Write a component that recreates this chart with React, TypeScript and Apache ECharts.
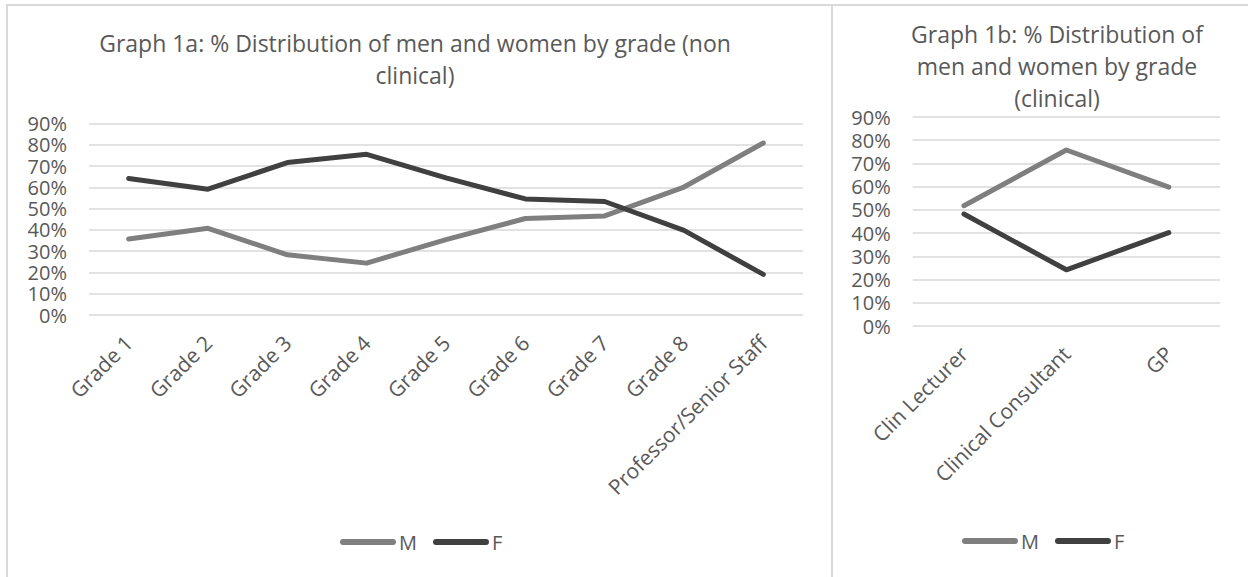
import React, { useEffect, useRef } from "react";
import * as echarts from "echarts";

const leftCategories = [
  "Grade 1",
  "Grade 2",
  "Grade 3",
  "Grade 4",
  "Grade 5",
  "Grade 6",
  "Grade 7",
  "Grade 8",
  "Professor/Senior Staff",
];
const leftM = [35.8, 40.8, 28.3, 24.4, 35.5, 45.4, 46.6, 60.2, 80.9];
const leftF = [64.2, 59.2, 71.7, 75.6, 64.5, 54.6, 53.4, 39.8, 19.1];

const rightCategories = ["Clin Lecturer", "Clinical Consultant", "GP"];
const rightM = [51.8, 75.8, 59.8];
const rightF = [48.2, 24.2, 40.2];

const yTicks = { min: 0, max: 90, interval: 10 };

const FONT = "'Open Sans', 'Noto Sans', sans-serif";
const TEXT = "#595959";
const GRID = "#d9d9d9";
const M_COLOR = "#7f7f7f";
const F_COLOR = "#404040";

export default function App() {
  const ref = useRef<HTMLDivElement>(null);

  useEffect(() => {
    if (!ref.current) return;
    const chart = echarts.init(ref.current, undefined, { renderer: "svg" });

    const yAxisBase = (gridIndex: number) => ({
      type: "value" as const,
      gridIndex,
      min: yTicks.min,
      max: yTicks.max,
      interval: yTicks.interval,
      axisLine: { show: false },
      axisTick: { show: false },
      axisLabel: {
        formatter: "{value}%",
        color: TEXT,
        fontSize: 20,
        lineHeight: 18,
        fontFamily: FONT,
        margin: 22,
      },
      splitLine: { lineStyle: { color: GRID, width: 1.5 } },
    });

    const xAxisBase = (gridIndex: number, data: string[]) => ({
      type: "category" as const,
      gridIndex,
      data,
      boundaryGap: true,
      axisLine: { show: false },
      axisTick: { show: false },
      axisLabel: {
        rotate: 45,
        interval: 0,
        color: TEXT,
        fontSize: 21,
        fontFamily: FONT,
        margin: 24,
      },
    });

    const line = (name: string, data: number[], color: string, idx: number) => ({
      name,
      type: "line" as const,
      xAxisIndex: idx,
      yAxisIndex: idx,
      data,
      showSymbol: false,
      symbol: "none",
      color,
      lineStyle: { color, width: 5, cap: "round", join: "round" },
    });

    const pill = "path://M3,0 L53,0 A3,3 0 0 1 53,6 L3,6 A3,3 0 0 1 3,0 Z";
    const legendBase = (left: number, top: number) => ({
      left,
      top,
      padding: 0,
      itemWidth: 56,
      itemHeight: 6,
      itemGap: 16,
      icon: pill,
      data: ["M", "F"],
      textStyle: { color: TEXT, fontSize: 20, fontFamily: FONT, padding: [0, 0, 0, -2] },
      selectedMode: false,
    });

    chart.setOption({
      animation: false,
      backgroundColor: "#ffffff",
      title: [
        {
          text: "Graph 1a: % Distribution of men and women by grade (non\nclinical)",
          left: 415,
          top: 27,
          textAlign: "center",
          padding: 0,
          textStyle: {
            color: TEXT,
            fontSize: 23,
            fontWeight: "normal",
            fontFamily: FONT,
            lineHeight: 32,
          },
        },
        {
          text: "Graph 1b: % Distribution of\nmen and women by grade\n(clinical)",
          left: 1057,
          top: 18,
          textAlign: "center",
          padding: 0,
          textStyle: {
            color: TEXT,
            fontSize: 23,
            fontWeight: "normal",
            fontFamily: FONT,
            lineHeight: 32,
          },
        },
      ],
      legend: [legendBase(340, 532), legendBase(962, 531)],
      grid: [
        { left: 89, top: 123.7, width: 714, height: 191.3, containLabel: false },
        { left: 912.7, top: 117, width: 307.3, height: 209, containLabel: false },
      ],
      xAxis: [xAxisBase(0, leftCategories), xAxisBase(1, rightCategories)],
      yAxis: [yAxisBase(0), yAxisBase(1)],
      series: [
        line("M", leftM, M_COLOR, 0),
        line("F", leftF, F_COLOR, 0),
        line("M", rightM, M_COLOR, 1),
        line("F", rightF, F_COLOR, 1),
      ],
      graphic: [
        {
          type: "rect",
          shape: { x: 7, y: 5, width: 825, height: 620 },
          style: { fill: "none", stroke: GRID, lineWidth: 2 },
          silent: true,
        },
        {
          type: "rect",
          shape: { x: 832, y: 5, width: 460, height: 620 },
          style: { fill: "none", stroke: GRID, lineWidth: 2 },
          silent: true,
        },
      ],
    });

    return () => chart.dispose();
  }, []);

  return (
    <div
      ref={ref}
      style={{ position: "fixed", left: 0, top: 0, width: 1248, height: 577 }}
    />
  );
}
